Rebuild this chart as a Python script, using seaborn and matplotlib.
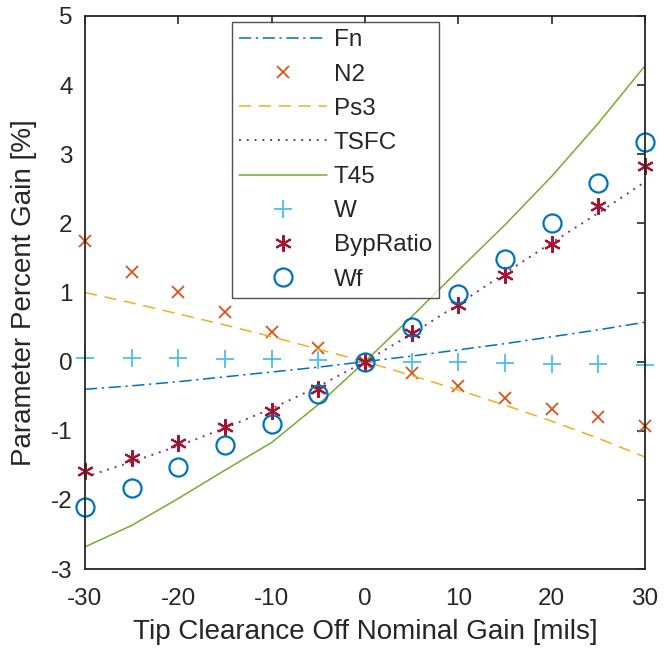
import numpy as np
import pandas as pd
import matplotlib
matplotlib.use("Agg")
import matplotlib.pyplot as plt
import seaborn as sns

# tip clearance offsets [mils]
clearance = [-30, -25, -20, -15, -10, -5, 0, 5, 10, 15, 20, 25, 30]

fn = [-0.40, -0.35, -0.29, -0.22, -0.15, -0.08, 0.0, 0.08, 0.17, 0.26, 0.36, 0.46, 0.57]
n2 = [1.75, 1.30, 1.01, 0.72, 0.43, 0.20, 0.0, -0.17, -0.35, -0.52, -0.68, -0.80, -0.93]
ps3 = [1.00, 0.85, 0.69, 0.53, 0.36, 0.18, 0.0, -0.20, -0.41, -0.63, -0.86, -1.11, -1.38]
tsfc = [-1.67, -1.45, -1.22, -0.96, -0.68, -0.36, 0.0, 0.40, 0.83, 1.28, 1.72, 2.15, 2.60]
t45 = [-2.68, -2.37, -1.98, -1.57, -1.17, -0.62, 0.0, 0.65, 1.32, 1.98, 2.68, 3.45, 4.28]
w = [0.05, 0.05, 0.05, 0.04, 0.04, 0.02, 0.0, 0.0, -0.01, -0.02, -0.03, -0.04, -0.05]
byp_ratio = [-1.58, -1.40, -1.18, -0.95, -0.72, -0.40, 0.0, 0.42, 0.82, 1.25, 1.70, 2.25, 2.83]
wf = [-2.10, -1.83, -1.52, -1.21, -0.90, -0.47, 0.0, 0.50, 0.98, 1.48, 2.00, 2.58, 3.18]

sns.set_style("white")
plt.rcParams['font.family'] = ['Liberation Sans', 'DejaVu Sans']
plt.rcParams['axes.unicode_minus'] = False

fig = plt.figure(figsize=(6.64, 6.49), dpi=100)
# axes box: x 85..645 px, y 16..569 px
ax = fig.add_axes([85 / 664, 1 - 569 / 649, 560 / 664, 553 / 649])

df = pd.DataFrame({"x": clearance, "Fn": fn, "N2": n2, "Ps3": ps3, "TSFC": tsfc,
                   "T45": t45, "W": w, "BypRatio": byp_ratio, "Wf": wf})

sns.lineplot(data=df, x="x", y="Fn", ax=ax, color="#0072BD", lw=1.1,
             linestyle=(0, (8, 3, 1.5, 3)), label="Fn")
ax.plot(df["x"], df["N2"], ls="none", marker="x", ms=9, mew=1.3,
        color="#D95319", label="N2", clip_on=False)
sns.lineplot(data=df, x="x", y="Ps3", ax=ax, color="#EDB120", lw=1.1,
             linestyle=(0, (8, 5)), label="Ps3")
sns.lineplot(data=df, x="x", y="TSFC", ax=ax, color="#7E2F8E", lw=1.4,
             linestyle=(0, (1, 3)), label="TSFC")
sns.lineplot(data=df, x="x", y="T45", ax=ax, color="#77AC30", lw=1.1, label="T45")
ax.plot(df["x"], df["W"], ls="none", marker="+", ms=13, mew=1.3,
        color="#4DBEEE", label="W", clip_on=False)
ax.plot(df["x"], df["BypRatio"], ls="none", marker=(6, 2, 0), ms=12, mew=1.5,
        color="#A2142F", label="BypRatio", clip_on=False)
ax.plot(df["x"], df["Wf"], ls="none", marker="o", ms=13, mew=1.6,
        mfc="none", color="#0072BD", label="Wf", clip_on=False)

ax.set_xlim(-30, 30)
ax.set_ylim(-3, 5)
ax.set_xticks(range(-30, 31, 10))
ax.set_yticks(range(-3, 6))
ax.tick_params(direction="in", length=6, width=1.2, labelsize=17.5,
               top=True, right=True, colors="#262626")
ax.tick_params(axis="x", pad=14)
ax.tick_params(axis="y", pad=9)
for s in ax.spines.values():
    s.set_linewidth(1.3)
    s.set_color("#262626")
ax.set_xlabel("Tip Clearance Off Nominal Gain [mils]", fontsize=20, labelpad=6, color="#262626")
ax.set_ylabel("Parameter Percent Gain [%]", fontsize=20, labelpad=10, color="#262626")

leg = ax.legend(loc="upper left", bbox_to_anchor=(0.262, 0.989), fontsize=17.5,
                handlelength=3.6, frameon=True, fancybox=False, borderpad=0.3,
                labelspacing=0.5, handletextpad=0.3, borderaxespad=0)
leg.get_frame().set_edgecolor("#262626")
leg.get_frame().set_linewidth(1.0)

fig.savefig("out.png", dpi=100)
